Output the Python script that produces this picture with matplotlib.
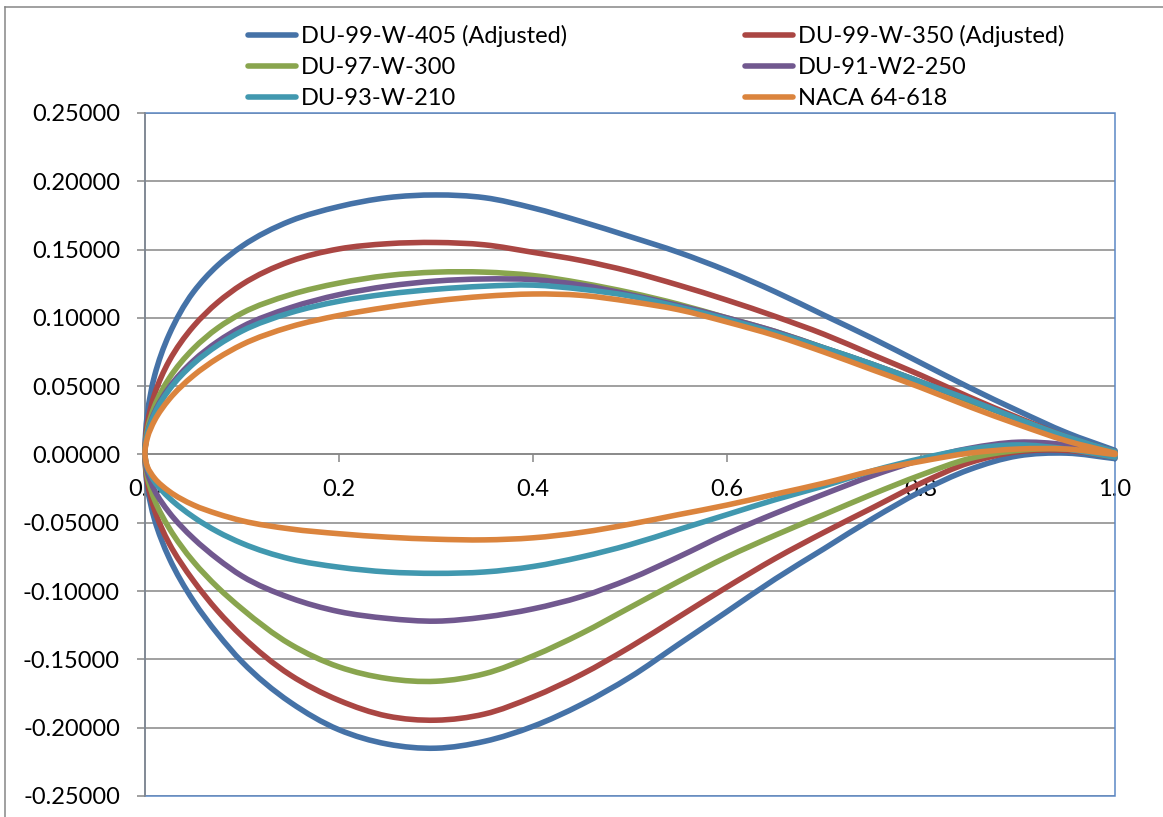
import numpy as np
import matplotlib
matplotlib.use("Agg")
import matplotlib.pyplot as plt
from matplotlib.lines import Line2D
from matplotlib.patches import Rectangle, PathPatch
from matplotlib.path import Path
from matplotlib.ticker import FormatStrFormatter, MultipleLocator

plt.rcParams['font.family'] = ['Lato', 'DejaVu Sans']
plt.rcParams['axes.unicode_minus'] = False

# chordwise stations (x/c), shared by every profile
stations = [0.0, 0.0025, 0.01, 0.025, 0.05, 0.075, 0.1, 0.15, 0.2, 0.25, 0.3, 0.35,
            0.4, 0.45, 0.5, 0.55, 0.6, 0.65, 0.7, 0.75, 0.8, 0.85, 0.9, 0.95, 1.0]

# upper / lower surface y/c
du405_up = [0.0, 0.030, 0.058, 0.088, 0.119, 0.1385, 0.1525, 0.171, 0.1815, 0.188, 0.190, 0.188,
            0.1805, 0.1705, 0.1595, 0.148, 0.1345, 0.119, 0.102, 0.085, 0.067, 0.049, 0.032, 0.016, 0.003]
du405_lo = [0.0, -0.024, -0.048, -0.0759, -0.1073, -0.1314, -0.1518, -0.1815, -0.2015, -0.212, -0.215, -0.210,
            -0.199, -0.183, -0.163, -0.139, -0.115, -0.091, -0.069, -0.047, -0.027, -0.011, -0.001, 0.001, -0.003]

du350_up = [0.0, 0.0226, 0.0444, 0.0686, 0.0939, 0.1114, 0.1245, 0.1415, 0.1505, 0.1543, 0.1552, 0.1535,
            0.148, 0.142, 0.134, 0.124, 0.113, 0.101, 0.088, 0.073, 0.058, 0.042, 0.027, 0.013, 0.002]
du350_lo = [0.0, -0.0205, -0.041, -0.0652, -0.0925, -0.1146, -0.133, -0.1615, -0.180, -0.1915, -0.1945, -0.190,
            -0.1775, -0.161, -0.141, -0.119, -0.097, -0.076, -0.057, -0.039, -0.021, -0.006, 0.002, 0.003, -0.002]

du300_up = [0.0, 0.018, 0.0357, 0.0559, 0.0775, 0.0926, 0.1035, 0.117, 0.1255, 0.131, 0.1335, 0.1335,
            0.131, 0.1255, 0.1185, 0.110, 0.100, 0.090, 0.078, 0.066, 0.053, 0.039, 0.026, 0.012, 0.002]
du300_lo = [0.0, -0.0165, -0.0335, -0.054, -0.0785, -0.0973, -0.113, -0.139, -0.1555, -0.164, -0.166, -0.1605,
            -0.1475, -0.131, -0.112, -0.093, -0.075, -0.059, -0.044, -0.029, -0.015, -0.003, 0.003, 0.004, -0.001]

du250_up = [0.0, 0.0156, 0.0311, 0.0491, 0.0687, 0.0827, 0.0935, 0.1075, 0.117, 0.1232, 0.127, 0.1285,
            0.128, 0.124, 0.117, 0.109, 0.100, 0.090, 0.078, 0.066, 0.053, 0.040, 0.026, 0.012, 0.002]
du250_lo = [0.0, -0.013, -0.0265, -0.0425, -0.0615, -0.0765, -0.089, -0.105, -0.115, -0.120, -0.122, -0.119,
            -0.113, -0.104, -0.091, -0.075, -0.058, -0.043, -0.029, -0.0155, -0.004, 0.0045, 0.009, 0.007, 0.000]

du210_up = [0.0, 0.0151, 0.0301, 0.0475, 0.0665, 0.080, 0.0904, 0.1038, 0.1122, 0.1175, 0.121, 0.1232,
            0.124, 0.121, 0.116, 0.108, 0.099, 0.089, 0.078, 0.066, 0.053, 0.040, 0.026, 0.013, 0.002]
du210_lo = [0.0, -0.010, -0.020, -0.0318, -0.0458, -0.0566, -0.065, -0.0765, -0.0825, -0.086, -0.087, -0.086,
            -0.082, -0.075, -0.066, -0.055, -0.044, -0.033, -0.023, -0.012, -0.003, 0.004, 0.007, 0.004, -0.002]

naca_up = [0.0, 0.0123, 0.0251, 0.0405, 0.0578, 0.0705, 0.0804, 0.0935, 0.1018, 0.1078, 0.1125, 0.1158,
           0.1175, 0.1165, 0.112, 0.106, 0.097, 0.087, 0.075, 0.062, 0.049, 0.035, 0.022, 0.010, 0.001]
naca_lo = [0.0, -0.009, -0.0175, -0.027, -0.037, -0.0435, -0.0485, -0.0545, -0.058, -0.0605, -0.062, -0.0625,
           -0.061, -0.057, -0.051, -0.044, -0.037, -0.029, -0.021, -0.012, -0.005, 0.001, 0.004, 0.004, 0.000]

names = ["DU-99-W-405 (Adjusted)", "DU-99-W-350 (Adjusted)", "DU-97-W-300",
         "DU-91-W2-250", "DU-93-W-210", "NACA 64-618"]
uppers = [du405_up, du350_up, du300_up, du250_up, du210_up, naca_up]
lowers = [du405_lo, du350_lo, du300_lo, du250_lo, du210_lo, naca_lo]
colors = ["#4572A7", "#AA4643", "#89A54E", "#71588F", "#4198AF", "#DB843D"]

W, H = 1163, 817
AX_W, AX_H = 970, 683


def smooth_path(xs, ys, sx, sy):
    # Excel-style "smoothed line": cubic Bezier pieces through the data points,
    # chord-length spaced so uneven stations don't kink
    p = np.column_stack([xs, ys])
    q = p * [sx, sy]
    h = np.hypot(*np.diff(q, axis=0).T)
    n = len(p)
    m = np.zeros_like(p)
    m[0] = (p[1] - p[0]) / h[0]
    m[-1] = (p[-1] - p[-2]) / h[-1]
    for i in range(1, n - 1):
        d0 = (p[i] - p[i - 1]) / h[i - 1]
        d1 = (p[i + 1] - p[i]) / h[i]
        m[i] = (d0 * h[i] + d1 * h[i - 1]) / (h[i - 1] + h[i])
    verts = [p[0]]
    codes = [Path.MOVETO]
    for i in range(n - 1):
        verts += [p[i] + m[i] * h[i] / 3, p[i + 1] - m[i + 1] * h[i] / 3, p[i + 1]]
        codes += [Path.CURVE4] * 3
    return Path(verts, codes)


fig = plt.figure(figsize=(W / 100, H / 100), dpi=100)
ax = fig.add_axes([145 / W, 1 - 796 / H, AX_W / W, AX_H / H])
ax.set_xlim(0, 1)
ax.set_ylim(-0.25, 0.25)

xs = stations[::-1] + stations[1:]
handles = []
for name, up, lo, c in zip(names, uppers, lowers, colors):
    ys = up[::-1] + lo[1:]
    ax.add_patch(PathPatch(smooth_path(xs, ys, AX_W / 1.0, AX_H / 0.5), fill=False,
                           edgecolor=c, lw=4, joinstyle='round', capstyle='round',
                           clip_on=False, zorder=3))
    handles.append(Line2D([], [], color=c, lw=4, solid_capstyle='round'))

ax.yaxis.set_major_locator(MultipleLocator(0.05))
ax.xaxis.set_major_locator(MultipleLocator(0.2))
ax.yaxis.set_major_formatter(FormatStrFormatter('%.5f'))
ax.xaxis.set_major_formatter(FormatStrFormatter('%.1f'))

grey = "#868686"
ax.grid(axis='y', color=grey, lw=1.1, zorder=1)
ax.set_axisbelow(True)

for s in ['top', 'right']:
    ax.spines[s].set_visible(False)
ax.spines['left'].set_color(grey)
ax.spines['left'].set_linewidth(1.1)
ax.spines['bottom'].set_position(('data', 0))
ax.spines['bottom'].set_color(grey)
ax.spines['bottom'].set_linewidth(1.1)
ax.add_patch(Rectangle((0, 0), 1, 1, transform=ax.transAxes, fill=False,
                       edgecolor="#5B87C5", lw=1.1, clip_on=False, zorder=2))

ax.tick_params(axis='y', direction='out', length=6, width=1.1, color=grey,
               labelsize=17, pad=12)
ax.tick_params(axis='x', direction='out', length=6, width=1.1, color=grey,
               labelsize=17, pad=12)

# two legend columns, laid out row by row like the original
leg_kw = dict(frameon=False, fontsize=17, handlelength=2.05, handletextpad=0.2,
              labelspacing=0.42, borderpad=0, borderaxespad=0, loc='upper left')
fig.legend([handles[0], handles[2], handles[4]],
           [names[0], names[2], names[4]],
           bbox_to_anchor=(248 / W, 1 - 25 / H), **leg_kw)
fig.legend([handles[1], handles[3], handles[5]],
           [names[1], names[3], names[5]],
           bbox_to_anchor=(745 / W, 1 - 25 / H), **leg_kw)

# outer chart border
fig.add_artist(Line2D([4.5 / W, 4.5 / W], [0, 1 - 7 / H], transform=fig.transFigure,
                      color=grey, lw=1.1))
fig.add_artist(Line2D([4.5 / W, 1], [1 - 7 / H, 1 - 7 / H], transform=fig.transFigure,
                      color=grey, lw=1.1))

fig.savefig("out.png", dpi=100)
